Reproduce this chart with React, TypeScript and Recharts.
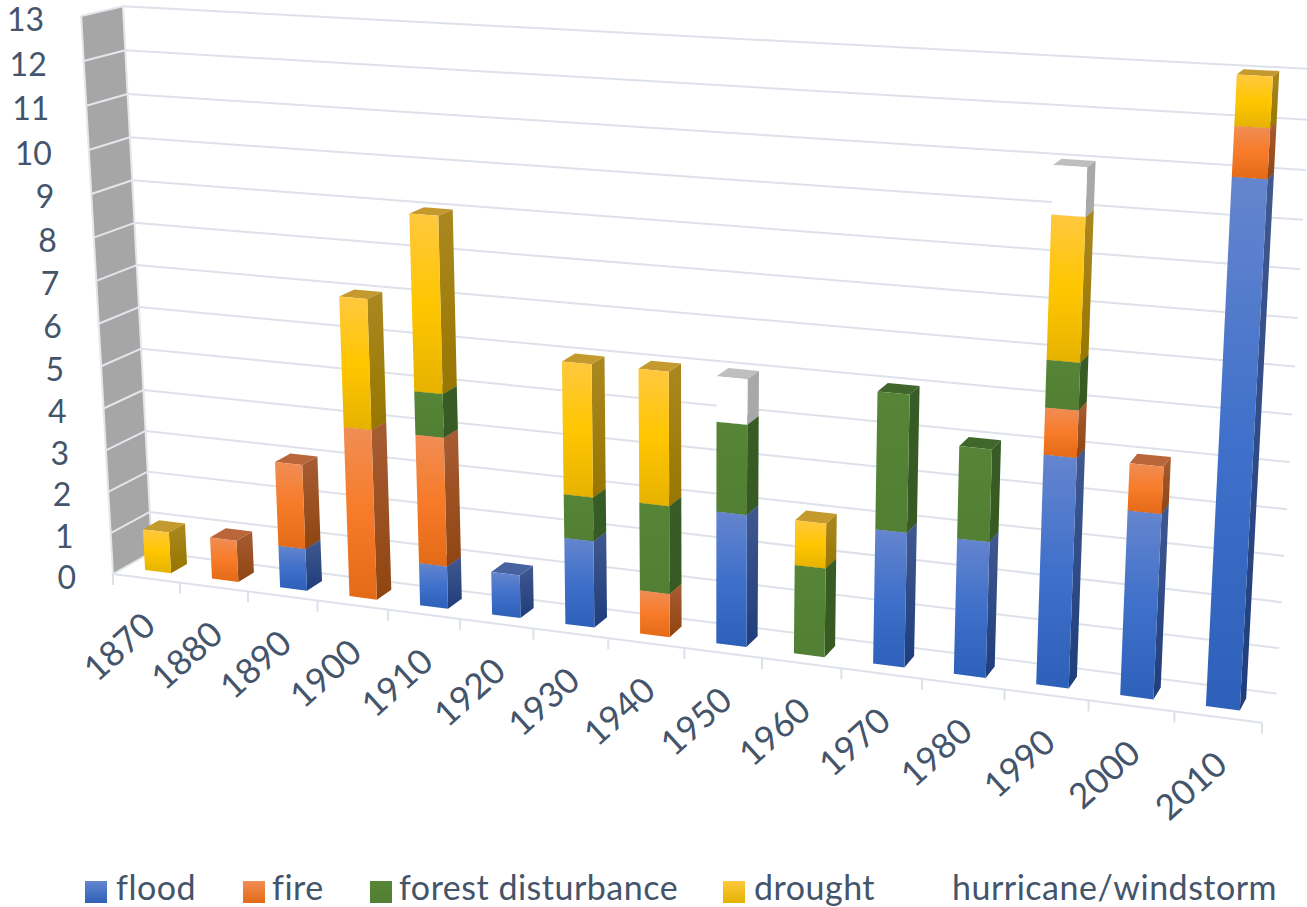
import { BarChart, Bar, XAxis, YAxis } from "recharts";

const years = ["1870", "1880", "1890", "1900", "1910", "1920", "1930", "1940", "1950", "1960", "1970", "1980", "1990", "2000", "2010"];
const flood = [0, 0, 1, 0, 1, 1, 2, 0, 3, 0, 3, 3, 5, 4, 11];
const fire = [0, 1, 2, 4, 3, 0, 0, 1, 0, 0, 0, 0, 1, 1, 1];
const forest = [0, 0, 0, 0, 1, 0, 1, 2, 2, 2, 3, 2, 1, 0, 0];
const drought = [1, 0, 0, 3, 4, 0, 3, 3, 0, 1, 0, 0, 3, 0, 1];
const hurricane = [0, 0, 0, 0, 0, 0, 0, 0, 1, 0, 0, 0, 1, 0, 0];
const valueTicks = [0, 1, 2, 3, 4, 5, 6, 7, 8, 9, 10, 11, 12, 13];

const rows = years.map((year, i) => ({
  year,
  flood: flood[i],
  fire: fire[i],
  forest: forest[i],
  drought: drought[i],
  hurricane: hurricane[i],
}));

// colour stops: front top/mid/bottom, side top/bottom, cap
const PALETTE: Record<string, string[]> = {
  flood: ["#6585ce", "#3f70ca", "#2d60b8", "#40598f", "#1f3d7c", "#47639f"],
  fire: ["#f08d55", "#f77b28", "#e36a17", "#a85c33", "#8f4511", "#b8663a"],
  forest: ["#578537", "#548235", "#527f33", "#385c25", "#365a22", "#41662c"],
  drought: ["#ffc83f", "#ffc600", "#e6b200", "#ab8820", "#977600", "#c49a2e"],
  hurricane: ["#ffffff", "#ffffff", "#ffffff", "#a8a8a8", "#a8a8a8", "#bfbfbf"],
};

const SERIES = [
  { key: "flood", label: "flood", swatchX: 85, textX: 116 },
  { key: "fire", label: "fire", swatchX: 243, textX: 272 },
  { key: "forest", label: "forest disturbance", swatchX: 370, textX: 399 },
  { key: "drought", label: "drought", swatchX: 723, textX: 754 },
  { key: "hurricane", label: "hurricane/windstorm", swatchX: 923, textX: 952 },
];

const FONT = "Lato, sans-serif";
const TEXT = "#44546a";
const GRID = "#dde1ea";

// inner plot rectangle handed to the library, then warped by project()
const PLOT = { left: 150, top: 50, width: 1000, height: 750 };

// camera: origin corner, vanishing points and the far corner on each axis
const ORIGIN = [113, 574];
const VP_X = [-7290, -385];
const VP_Y = [705, 10940];
const VP_Z = [1817, -387];
const wx = (1262 - ORIGIN[0]) / (VP_X[0] - 1262);
const wy = (16 - ORIGIN[1]) / (VP_Y[1] - 16);
const wz = (152 - ORIGIN[0]) / (VP_Z[0] - 152);

// u along the years, v up the values, d from the front edge to the back wall
function project(u: number, v: number, d: number) {
  const a = u * wx;
  const b = v * wy;
  const c = d * wz;
  const w = 1 + a + b + c;
  return [
    (ORIGIN[0] + a * VP_X[0] + b * VP_Y[0] + c * VP_Z[0]) / w,
    (ORIGIN[1] + a * VP_X[1] + b * VP_Y[1] + c * VP_Z[1]) / w,
  ];
}

const uOf = (x: number) => (x - PLOT.left) / PLOT.width;
const vOf = (y: number) => (PLOT.top + PLOT.height - y) / PLOT.height;
const pts = (list: number[][]) => list.map((p) => `${p[0].toFixed(1)},${p[1].toFixed(1)}`).join(" ");

const BAR_FRONT = 0.3;
const BAR_BACK = 0.72;

function Prism(props: any) {
  const { x, y, width, height, series } = props;
  if (!height || height <= 0) return null;
  const u0 = uOf(x);
  const u1 = uOf(x + width);
  const v1 = vOf(y);
  const v0 = vOf(y + height);
  const front = [project(u0, v0, BAR_FRONT), project(u1, v0, BAR_FRONT), project(u1, v1, BAR_FRONT), project(u0, v1, BAR_FRONT)];
  const side = [project(u1, v0, BAR_FRONT), project(u1, v0, BAR_BACK), project(u1, v1, BAR_BACK), project(u1, v1, BAR_FRONT)];
  const cap = [project(u0, v1, BAR_FRONT), project(u1, v1, BAR_FRONT), project(u1, v1, BAR_BACK), project(u0, v1, BAR_BACK)];
  return (
    <g>
      <polygon points={pts(cap)} fill={PALETTE[series][5]} />
      <polygon points={pts(side)} fill={`url(#side-${series})`} />
      <polygon points={pts(front)} fill={`url(#front-${series})`} />
    </g>
  );
}

function Walls() {
  const top = valueTicks.length - 1;
  const line = (a: number[], b: number[], key: string, color = GRID) => (
    <line key={key} x1={a[0]} y1={a[1]} x2={b[0]} y2={b[1]} stroke={color} strokeWidth={2} />
  );
  return (
    <g>
      <polygon points={pts([project(0, 0, 0), project(0, 0, 1), project(0, 1, 1), project(0, 1, 0)])} fill="#a6a6a6" />
      {valueTicks.map((t) => line(project(0, t / top, 0), project(0, t / top, 1), `side-${t}`, "#e4e6ec"))}
      {valueTicks.map((t) => line(project(0, t / top, 1), project(1, t / top, 1), `back-${t}`))}
      {line(project(0, 0, 0), project(0, 1, 0), "wall-front", "#e4e6ec")}
      {line(project(0, 0, 1), project(0, 1, 1), "wall-back", "#e4e6ec")}
      {line(project(0, 0, 0), project(1, 0, 0), "front")}
      {years.map((_, i) => {
        const p = project(i / years.length, 0, 0);
        return line(p, [p[0], p[1] + 11], `tick-${i}`);
      })}
      {(() => {
        const p = project(1, 0, 0);
        return line(p, [p[0], p[1] + 11], "tick-end");
      })()}
    </g>
  );
}

function YearTick(props: any) {
  const { x, payload } = props;
  const p = project(uOf(x), 0, 0);
  const tx = p[0] + 2;
  const ty = p[1] + 40;
  return (
    <text x={tx} y={ty} textAnchor="end" dominantBaseline="central" transform={`rotate(-42 ${tx} ${ty})`} fontFamily={FONT} fontSize={35} fill={TEXT}>
      {payload.value}
    </text>
  );
}

function ValueTick(props: any) {
  const { y, payload } = props;
  const p = project(0, vOf(y), 0);
  return (
    <text x={p[0] - 37} y={p[1] + 2} textAnchor="end" dominantBaseline="central" fontFamily={FONT} fontSize={32} fill={TEXT}>
      {payload.value}
    </text>
  );
}

function ChartLegend() {
  return (
    <>
      {SERIES.map((s) => {
        const c = PALETTE[s.key];
        return (
          <div key={s.key}>
            <div
              style={{
                position: "absolute",
                left: s.swatchX,
                top: 881,
                width: 22,
                height: 22,
                background: `linear-gradient(${c[0]}, ${c[2]})`,
              }}
            />
            <div
              style={{
                position: "absolute",
                left: s.textX,
                top: 867,
                lineHeight: "40px",
                fontFamily: FONT,
                fontSize: 34,
                letterSpacing: 0.5,
                color: TEXT,
                whiteSpace: "nowrap",
              }}
            >
              {s.label}
            </div>
          </div>
        );
      })}
    </>
  );
}

export default function App() {
  return (
    <div style={{ position: "absolute", left: 0, top: 0, width: 1307, height: 907, overflow: "hidden", background: "#fff" }}>
      <BarChart
        width={1307}
        height={907}
        data={rows}
        barCategoryGap="30.5%"
        margin={{ top: PLOT.top, left: PLOT.left - 50, right: 1307 - PLOT.left - PLOT.width, bottom: 907 - PLOT.top - PLOT.height - 50 }}
      >
        <defs>
          {SERIES.map((s) => {
            const c = PALETTE[s.key];
            return (
              <g key={s.key}>
                <linearGradient id={`front-${s.key}`} x1="0" y1="0" x2="0" y2="1">
                  <stop offset="0" stopColor={c[0]} />
                  <stop offset="0.5" stopColor={c[1]} />
                  <stop offset="1" stopColor={c[2]} />
                </linearGradient>
                <linearGradient id={`side-${s.key}`} x1="0" y1="0" x2="0" y2="1">
                  <stop offset="0" stopColor={c[3]} />
                  <stop offset="1" stopColor={c[4]} />
                </linearGradient>
              </g>
            );
          })}
        </defs>
        <Walls />
        <XAxis dataKey="year" height={50} interval={0} axisLine={false} tickLine={false} tick={<YearTick />} />
        <YAxis width={50} domain={[0, 13]} ticks={valueTicks} interval={0} axisLine={false} tickLine={false} tick={<ValueTick />} />
        {SERIES.map((s) => (
          <Bar
            key={s.key}
            dataKey={s.key}
            stackId="events"
            name={s.label}
            fill={PALETTE[s.key][1]}
            isAnimationActive={false}
            shape={(p: any) => <Prism {...p} series={s.key} />}
          />
        ))}
      </BarChart>
      <ChartLegend />
    </div>
  );
}
